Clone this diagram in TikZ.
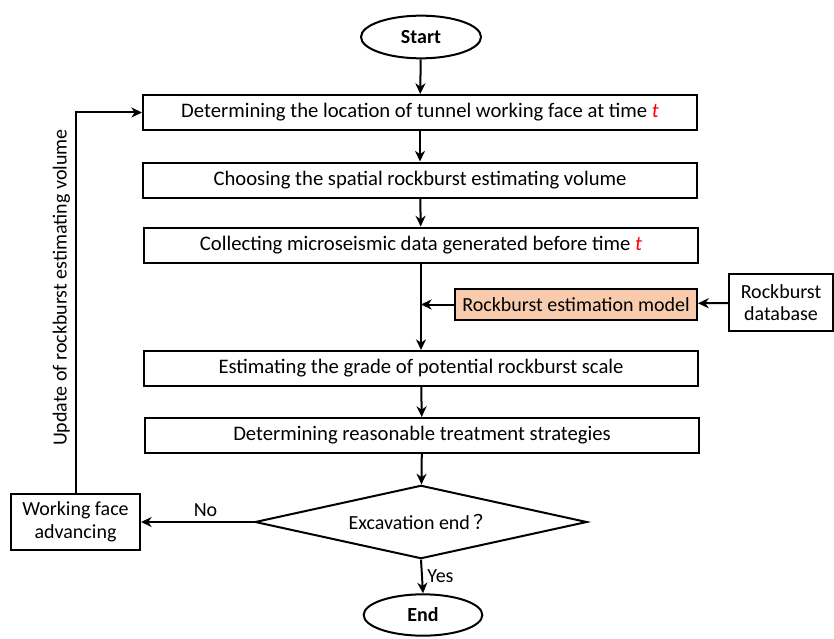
\documentclass[tikz,border=0pt]{standalone}
\usepackage{fontspec}
\setmainfont{Carlito}
\newfontfamily\cjkfont{Noto Sans CJK SC}
\usetikzlibrary{shapes.geometric,arrows.meta,positioning}
\definecolor{peach}{HTML}{F8CBAD}

\begin{document}
\begin{tikzpicture}[
  x=0.75pt, y=-0.75pt,
  line width=1.5pt,
  >={Stealth[length=8pt,width=7.5pt,inset=2.5pt]},
  font=\fontsize{15.5}{17}\selectfont,
  stepbox/.style={draw,rectangle,minimum width=415.5pt,minimum height=26.25pt,inner sep=0pt},
  term/.style={draw,ellipse,minimum width=90pt,minimum height=32pt,inner sep=0pt,font=\bfseries\fontsize{15}{17}\selectfont},
  sidebox/.style={draw,rectangle,align=center,inner sep=0pt,font=\fontsize{15}{17}\selectfont}
]
\useasboundingbox (0,0) rectangle (834,638);

\node[term] (start) at (421,37) {Start};
\node[stepbox] (loc) at (420,112.5) {Determining the location of tunnel working face at time {\color{red}\itshape t}};
\node[stepbox] (vol) at (420,180) {Choosing the spatial rockburst estimating volume};
\node[stepbox] (data) at (421,245) {Collecting microseismic data generated before time {\color{red}\itshape t}};
\node[sidebox,fill=peach,minimum width=181.5pt,minimum height=23.25pt] (model) at (576,304.5) {Rockburst estimation model};
\node[sidebox,minimum width=78pt,minimum height=42.75pt] (db) at (781,302.5) {Rockburst\\database};
\node[stepbox] (est) at (421,368.5) {Estimating the grade of potential rockburst scale};
\node[stepbox] (treat) at (422,435.5) {Determining reasonable treatment strategies};
\node[draw,diamond,aspect=4.5,minimum width=249pt,minimum height=55pt,inner sep=0pt,font=\fontsize{15}{17}\selectfont] (dec) at (421,522) {Excavation end\,{\cjkfont ？}};
\node[term,minimum width=89pt,minimum height=31pt] (fin) at (423,615) {End};
\node[sidebox,minimum width=96.75pt,minimum height=42pt] (adv) at (75.5,522) {Working face\\advancing};
\coordinate (join) at (data.south |- model.west);

\path (start) edge[->] (loc)
(loc) edge[->] (vol)
(vol) edge[->] (data)
(est) edge[->] (treat)
(treat) edge[->] (dec)
(db) edge[->] (model)
(model) edge[->] (join);
\draw[->] (data.south) -- (data.south |- est.north);
\draw[->] (dec.south) -- node[right,font=\fontsize{15}{17}\selectfont] {Yes} (fin.north);
\draw[->] (dec.west) -- node[above,xshift=6pt,font=\fontsize{15}{17}\selectfont] {No} (adv.east);
\draw[->] (adv.north) -- (adv.north |- loc.west)
  node[pos=0.54,above,rotate=90,yshift=0pt,font=\fontsize{15}{17}\selectfont] {Update of rockburst estimating volume} -- (loc.west);

\end{tikzpicture}
\end{document}
